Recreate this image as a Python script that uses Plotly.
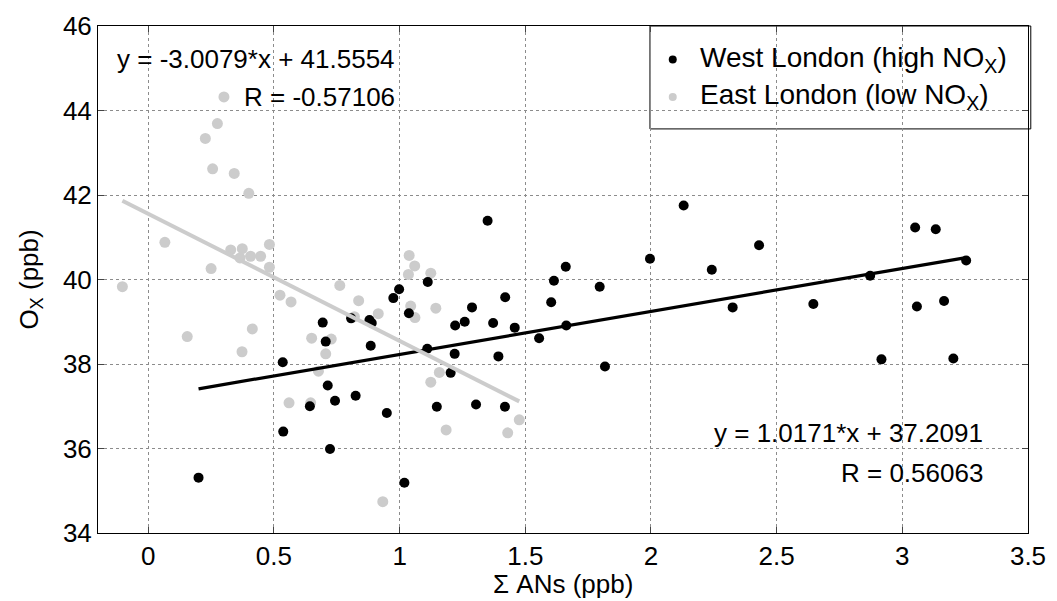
import plotly.graph_objects as go

# West London (high NOx) - black points
west_x = [0.20, 0.535, 0.537, 0.643, 0.694, 0.706, 0.714, 0.723, 0.743, 0.807, 0.825, 0.88, 0.889,
          0.885, 0.949, 0.975, 0.998, 1.019, 1.037, 1.112, 1.110, 1.148, 1.203, 1.219, 1.221,
          1.259, 1.288, 1.304, 1.35, 1.372, 1.393, 1.419, 1.42, 1.458, 1.555, 1.603, 1.614,
          1.661, 1.663, 1.796, 1.817, 1.996, 2.13, 2.242, 2.325, 2.43, 2.646, 2.872, 2.917,
          3.051, 3.058, 3.133, 3.166, 3.203, 3.254]
west_y = [35.31, 38.04, 36.40, 37.00, 38.98, 38.53, 37.49, 35.99, 37.13, 39.08, 37.25, 39.04, 38.97,
          38.43, 36.84, 39.56, 39.77, 35.19, 39.20, 39.94, 38.36, 36.99, 37.79, 38.24, 38.91,
          39.00, 39.34, 37.04, 41.39, 38.97, 38.18, 36.99, 39.58, 38.86, 38.61, 39.46, 39.97,
          40.30, 38.91, 39.83, 37.94, 40.49, 41.75, 40.23, 39.34, 40.81, 39.42, 40.09, 38.11,
          41.23, 39.36, 41.19, 39.49, 38.13, 40.45]

# East London (low NOx) - grey points
east_x = [-0.103, 0.066, 0.155, 0.227, 0.25, 0.256, 0.275, 0.301, 0.328, 0.342, 0.365, 0.373,
          0.374, 0.40, 0.407, 0.414, 0.447, 0.482, 0.482, 0.524, 0.568, 0.56, 0.646, 0.65,
          0.677, 0.706, 0.728, 0.762, 0.82, 0.837, 0.915, 0.933, 1.035, 1.038, 1.044, 1.06,
          1.061, 1.124, 1.124, 1.144, 1.158, 1.185, 1.43, 1.476]
east_y = [39.83, 40.88, 38.65, 43.34, 40.26, 42.62, 43.69, 44.32, 40.70, 42.51, 40.51, 38.29,
          40.73, 42.04, 40.55, 38.83, 40.55, 40.83, 40.29, 39.63, 39.47, 37.08, 37.08, 38.61,
          37.83, 38.24, 38.59, 39.86, 39.12, 39.50, 39.19, 34.74, 40.12, 40.57, 39.37, 40.32,
          39.10, 40.15, 37.57, 39.32, 37.80, 36.44, 36.37, 36.68]

# Fit coefficients (as printed on chart)
west_slope, west_icpt, west_r = 1.0171, 37.2091, 0.56063
east_slope, east_icpt, east_r = -3.0079, 41.5554, -0.57106

series_names = ["West London (high NO<sub>X</sub>)", "East London (low NO<sub>X</sub>)"]
x_title = "\u03a3 ANs (ppb)"
y_title = "O<sub>X</sub> (ppb)"

x_ticks = [0, 0.5, 1, 1.5, 2, 2.5, 3, 3.5]
y_ticks = [34, 36, 38, 40, 42, 44, 46]

FONT = "Liberation Sans, Arial, sans-serif"
GREY = "#cccccc"
SERIES_COLORS = ["black", GREY]

fig = go.Figure()

wx = [min(west_x), max(west_x)]
ex = [min(east_x), max(east_x)]

fig.add_trace(go.Scatter(x=east_x, y=east_y, mode="markers",
                         marker=dict(color=GREY, size=11),
                         name=series_names[1], showlegend=False))
fig.add_trace(go.Scatter(x=west_x, y=west_y, mode="markers",
                         marker=dict(color="black", size=10),
                         name=series_names[0], showlegend=False))
fig.add_trace(go.Scatter(x=wx, y=[west_slope * v + west_icpt for v in wx], mode="lines",
                         line=dict(color="black", width=3.2), showlegend=False, hoverinfo="skip"))
fig.add_trace(go.Scatter(x=ex, y=[east_slope * v + east_icpt for v in ex], mode="lines",
                         line=dict(color=GREY, width=4), showlegend=False, hoverinfo="skip"))

# Manual legend (MATLAB-style box) in paper coordinates
leg_x0, leg_x1, leg_y0, leg_y1 = 0.5935, 1.003, 0.797, 1.0
leg_mark_x, leg_text_x = 0.618, 0.645
leg_rows = [0.934, 0.860]
fig.add_shape(type="rect", xref="paper", yref="paper", x0=leg_x0, x1=leg_x1, y0=leg_y0, y1=leg_y1,
              line=dict(color="black", width=1), fillcolor="white", layer="between")
fig.add_trace(go.Scatter(x=[leg_mark_x] * 2, y=leg_rows, xaxis="x2", yaxis="y2", mode="markers",
                         marker=dict(color=SERIES_COLORS, size=8), showlegend=False,
                         hoverinfo="skip", cliponaxis=False))
for name, yy in zip(series_names, leg_rows):
    fig.add_annotation(x=leg_text_x, y=yy, xref="paper", yref="paper", xanchor="left",
                       yanchor="middle", text=name, showarrow=False,
                       font=dict(family=FONT, size=28, color="black"))

ann_font = dict(family=FONT, size=26, color="black")
fig.add_annotation(x=0.99, y=45.21, xref="x", yref="y", xanchor="right", yanchor="middle",
                   text=f"y = {east_slope:.4f}*x + {east_icpt:.4f}", showarrow=False, font=ann_font)
fig.add_annotation(x=0.99, y=44.33, xref="x", yref="y", xanchor="right", yanchor="middle",
                   text=f"R = {east_r:.5f}", showarrow=False, font=ann_font)
fig.add_annotation(x=3.33, y=36.36, xref="x", yref="y", xanchor="right", yanchor="middle",
                   text=f"y = {west_slope:.4f}*x + {west_icpt:.4f}", showarrow=False, font=ann_font)
fig.add_annotation(x=3.33, y=35.42, xref="x", yref="y", xanchor="right", yanchor="middle",
                   text=f"R = {west_r:.5f}", showarrow=False, font=ann_font)

# Axis titles as annotations for exact placement
fig.add_annotation(x=0.5, y=-0.1, xref="paper", yref="paper", xanchor="center", yanchor="middle",
                   text=x_title, showarrow=False, font=dict(family=FONT, size=26, color="black"))
fig.add_annotation(x=-0.073, y=0.5, xref="paper", yref="paper", xanchor="center", yanchor="middle",
                   text=y_title, textangle=-90, showarrow=False,
                   font=dict(family=FONT, size=26, color="black"))

axis_common = dict(showline=True, linecolor="black", linewidth=1, mirror="ticks",
                   ticks="inside", ticklen=6, tickcolor="#444444", tickwidth=1,
                   showgrid=True, gridcolor="#8c8c8c", griddash="dot", gridwidth=1,
                   zeroline=False, automargin=False,
                   tickfont=dict(family=FONT, size=26, color="black"))

fig.update_xaxes(range=[-0.2, 3.5], tickvals=x_ticks, ticktext=[f"{v:g}" for v in x_ticks],
                 **axis_common)
fig.update_yaxes(range=[34, 46], tickvals=y_ticks, ticktext=[str(v) for v in y_ticks],
                 **axis_common)

fig.update_layout(width=1057, height=601, plot_bgcolor="white", paper_bgcolor="white",
                  margin=dict(l=98, r=29, t=26, b=68),
                  font=dict(family=FONT, size=26, color="black"),
                  showlegend=False,
                  xaxis2=dict(domain=[0, 1], range=[0, 1], overlaying="x", visible=False,
                              fixedrange=True),
                  yaxis2=dict(domain=[0, 1], range=[0, 1], overlaying="y", visible=False,
                              fixedrange=True, anchor="x2"))

fig.write_html("out.html", config={"displayModeBar": False},
               post_script="document.body.style.margin='0';document.body.style.padding='0';")
